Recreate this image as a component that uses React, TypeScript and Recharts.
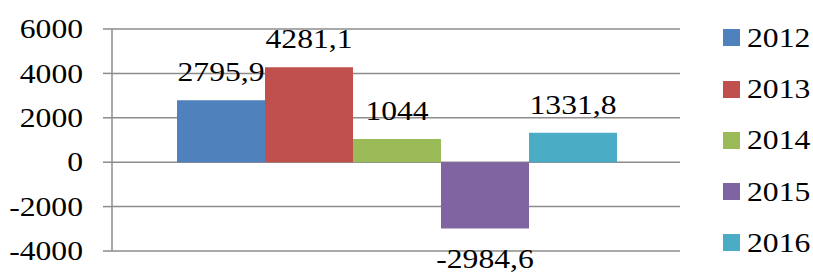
import { Bar, BarChart, CartesianGrid, LabelList, Legend, XAxis, YAxis } from "recharts";

const YEARS = ["2012", "2013", "2014", "2015", "2016"];
const VALUES = [2795.9, 4281.1, 1044, -2984.6, 1331.8];
const COLORS = ["#4F81BD", "#C0504D", "#9BBB59", "#8064A2", "#4BACC6"];
const Y_TICKS = [-4000, -2000, 0, 2000, 4000, 6000];

const FONT = "Liberation Serif";
const FONT_SIZE = 28;
// the source picture is stretched sideways a little
const STRETCH = 1.13;
const GRID = "#8c8c8c";

const row: Record<string, number | string> = { name: "" };
YEARS.forEach((y, i) => {
  row["y" + y] = VALUES[i];
});
const data = [row];

const fmt = (v: number) => String(v).replace(".", ",");

function YTick(props: any) {
  const { x, y, payload } = props;
  return (
    <g transform={`translate(${x},${y}) scale(${STRETCH},1)`}>
      <text x={0} y={0} dy={FONT_SIZE * 0.33} textAnchor="end" fontFamily={FONT} fontSize={FONT_SIZE} fill="#000">
        {payload.value}
      </text>
    </g>
  );
}

function BarLabel(props: any) {
  const vb = props.viewBox ?? props;
  const { x, y, width, height } = vb;
  const value = Number(props.value);
  const top = Math.min(y, y + height);
  const bottom = Math.max(y, y + height);
  const cx = x + width / 2;
  const baseline = value >= 0 ? top - 19 : bottom + 40;
  return (
    <g transform={`translate(${cx},${baseline}) scale(${STRETCH},1)`}>
      <text x={0} y={0} textAnchor="middle" fontFamily={FONT} fontSize={FONT_SIZE} fill="#000">
        {fmt(value)}
      </text>
    </g>
  );
}

function LegendBox() {
  return (
    <div style={{ fontFamily: FONT, fontSize: FONT_SIZE, lineHeight: 1 }}>
      {YEARS.map((y, i) => (
        <div key={y} style={{ display: "flex", alignItems: "center", height: 51.2 }}>
          <span style={{ width: 17, height: 17, background: COLORS[i], marginRight: 7, flex: "none" }} />
          <span style={{ display: "inline-block", transform: `scaleX(${STRETCH})`, transformOrigin: "left center" }}>{y}</span>
        </div>
      ))}
    </div>
  );
}

export default function App() {
  return (
    <div style={{ position: "absolute", left: 0, top: 0, width: 813, height: 274, background: "#fff" }}>
      <BarChart
        width={813}
        height={274}
        data={data}
        margin={{ top: 29, right: 133, bottom: 23, left: 0 }}
        barCategoryGap={65}
        barGap={0}
      >
        <CartesianGrid vertical={false} stroke={GRID} strokeWidth={1.5} />
        <XAxis dataKey="name" hide />
        <YAxis
          width={112}
          domain={[-4000, 6000]}
          ticks={Y_TICKS}
          interval={0}
          tickSize={9}
          tickMargin={20}
          tick={<YTick />}
          axisLine={{ stroke: GRID, strokeWidth: 1.5 }}
          tickLine={{ stroke: GRID, strokeWidth: 1.5 }}
        />
        <Legend
          content={<LegendBox />}
          layout="vertical"
          align="center"
          verticalAlign="middle"
          wrapperStyle={{ left: 723, top: 12.4, width: 90, right: "auto", bottom: "auto" }}
        />
        {YEARS.map((y, i) => (
          <Bar key={y} dataKey={"y" + y} name={y} fill={COLORS[i]} isAnimationActive={false}>
            <LabelList dataKey={"y" + y} content={<BarLabel />} />
          </Bar>
        ))}
      </BarChart>
    </div>
  );
}
